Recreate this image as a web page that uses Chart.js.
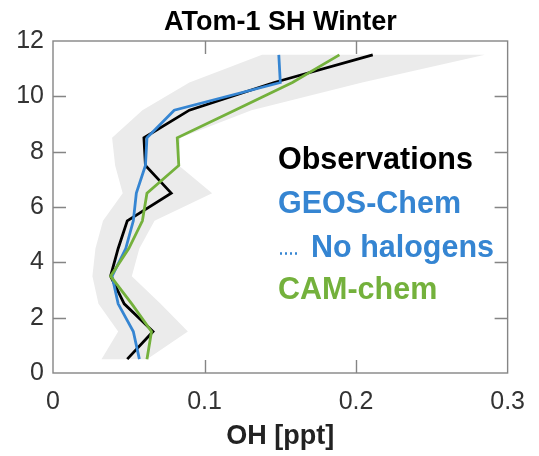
<!DOCTYPE html>
<html>
<head>
<meta charset="utf-8">
<script src="https://cdn.jsdelivr.net/npm/chart.js@4.4.1/dist/chart.umd.min.js"></script>
<style>
  html, body { margin: 0; padding: 0; background: #ffffff; }
  #wrap { width: 539px; height: 456px; }
</style>
</head>
<body>
<div id="wrap"><canvas id="c" width="539" height="456"></canvas></div>
<script>
// ---- data ----
const altitudes = [0.5, 1.5, 2.5, 3.5, 4.5, 5.5, 6.5, 7.5, 8.5, 9.5, 10.5, 11.5];
const obsOH   = [0.049, 0.066, 0.047, 0.038, 0.043, 0.049, 0.078, 0.061, 0.060, 0.090, 0.146, 0.211];
const geosOH  = [0.057, 0.053, 0.043, 0.039, 0.048, 0.053, 0.055, 0.061, 0.062, 0.080, 0.150, 0.149];
const camOH   = [0.062, 0.065, 0.052, 0.038, 0.050, 0.059, 0.062, 0.083, 0.082, 0.120, 0.158, 0.189];
const bandLow  = [0.032, 0.043, 0.030, 0.026, 0.028, 0.033, 0.046, 0.041, 0.039, 0.059, 0.090, 0.138];
const bandHigh = [0.062, 0.089, 0.071, 0.052, 0.057, 0.067, 0.105, 0.083, 0.084, 0.131, 0.204, 0.285];
const xTickLabels = ['0', '0.1', '0.2', '0.3'];
const yTickLabels = ['0', '2', '4', '6', '8', '10', '12'];
const legendLabels = ['Observations', 'GEOS-Chem', 'No halogens', 'CAM-chem'];
const titleText = 'ATom-1 SH Winter';
const xTitle = 'OH [ppt]';

// ---- styling ----
const FONT = '"Liberation Sans", Arial, Helvetica, sans-serif';
const C_OBS = '#000000';
const C_GEOS = '#3585d2';
const C_CAM = '#74b13c';
const C_BAND = '#ebebeb';

const toPts = (xs) => xs.map((v, i) => ({ x: v, y: altitudes[i] }));
const bandPts = toPts(bandLow).concat(toPts(bandHigh).reverse());

const overlay = {
  id: 'overlay',
  afterDatasetsDraw(chart) {
    const { ctx, chartArea: a, scales: { x, y } } = chart;
    ctx.save();
    // box
    ctx.strokeStyle = '#858585';
    ctx.lineWidth = 1.4;
    ctx.strokeRect(a.left, a.top, a.right - a.left, a.bottom - a.top);
    // inward ticks
    const L = 13;
    ctx.beginPath();
    x.ticks.forEach(t => {
      const px = Math.round(x.getPixelForValue(t.value)) + 0.5;
      if (px <= a.left + 1 || px >= a.right - 1) return;
      ctx.moveTo(px, a.bottom); ctx.lineTo(px, a.bottom - L);
      ctx.moveTo(px, a.top); ctx.lineTo(px, a.top + L);
    });
    y.ticks.forEach(t => {
      const py = Math.round(y.getPixelForValue(t.value)) + 0.5;
      if (py <= a.top + 1 || py >= a.bottom - 1) return;
      ctx.moveTo(a.left, py); ctx.lineTo(a.left + L, py);
      ctx.moveTo(a.right, py); ctx.lineTo(a.right - L, py);
    });
    ctx.stroke();

    const cx = (a.left + a.right) / 2;
    ctx.textBaseline = 'alphabetic';
    ctx.textAlign = 'center';
    // chart title, centred over the plot box
    ctx.font = 'bold 27px ' + FONT;
    ctx.fillStyle = '#000000';
    ctx.fillText(titleText, cx, a.top - 11);

    // x axis title
    ctx.font = 'bold 27px ' + FONT;
    ctx.fillStyle = '#222222';
    ctx.fillText(xTitle, cx, a.bottom + 71);

    // text legend inside the plot
    ctx.font = 'bold 30.5px ' + FONT;
    ctx.textAlign = 'left';
    const lx = a.left + 225;
    ctx.fillStyle = C_OBS;  ctx.fillText(legendLabels[0], lx, a.top + 128);
    ctx.fillStyle = C_GEOS; ctx.fillText(legendLabels[1], lx, a.top + 172);
    ctx.fillStyle = C_GEOS; ctx.fillText(legendLabels[2], lx + 33, a.top + 216);
    ctx.fillStyle = C_CAM;  ctx.fillText(legendLabels[3], lx, a.top + 258);
    // dotted marker for "No halogens"
    ctx.strokeStyle = C_GEOS;
    ctx.lineWidth = 2.5;
    ctx.setLineDash([2, 3]);
    ctx.beginPath();
    ctx.moveTo(lx + 2, a.top + 212.5);
    ctx.lineTo(lx + 21, a.top + 212.5);
    ctx.stroke();
    ctx.restore();
  }
};

new Chart(document.getElementById('c'), {
  type: 'scatter',
  data: {
    datasets: [
      { label: 'CAM-chem', data: toPts(camOH), showLine: true, borderColor: C_CAM, borderWidth: 2.8, pointRadius: 0, fill: false, tension: 0 },
      { label: 'GEOS-Chem', data: toPts(geosOH), showLine: true, borderColor: C_GEOS, borderWidth: 2.8, pointRadius: 0, fill: false, tension: 0 },
      { label: 'Observations', data: toPts(obsOH), showLine: true, borderColor: C_OBS, borderWidth: 2.8, pointRadius: 0, fill: false, tension: 0 },
      { label: 'range', data: bandPts, showLine: true, borderWidth: 0, borderColor: 'rgba(0,0,0,0)', backgroundColor: C_BAND, pointRadius: 0, fill: 'shape', tension: 0 }
    ]
  },
  options: {
    responsive: false,
    animation: false,
    devicePixelRatio: 1,
    layout: { padding: { top: 41, right: 27, bottom: 0, left: 0 } },
    plugins: {
      legend: { display: false },
      tooltip: { enabled: false },
      title: { display: false }
    },
    scales: {
      x: {
        type: 'linear',
        min: 0, max: 0.3,
        grid: { display: false, drawTicks: false },
        border: { display: false },
        afterFit: (s) => { s.height = 83; },
        ticks: {
          stepSize: 0.1,
          padding: 14,
          color: '#333333',
          font: { family: FONT, size: 25 },
          maxRotation: 0,
          callback: (v) => xTickLabels[Math.round(v * 10)] ?? ''
        }
      },
      y: {
        type: 'linear',
        min: 0, max: 12,
        grid: { display: false, drawTicks: false },
        border: { display: false },
        afterFit: (s) => { s.width = 53; },
        ticks: {
          stepSize: 2,
          padding: 9,
          color: '#333333',
          font: { family: FONT, size: 25 },
          callback: (v) => yTickLabels[Math.round(v / 2)] ?? ''
        }
      }
    }
  },
  plugins: [overlay]
});
</script>
</body>
</html>
